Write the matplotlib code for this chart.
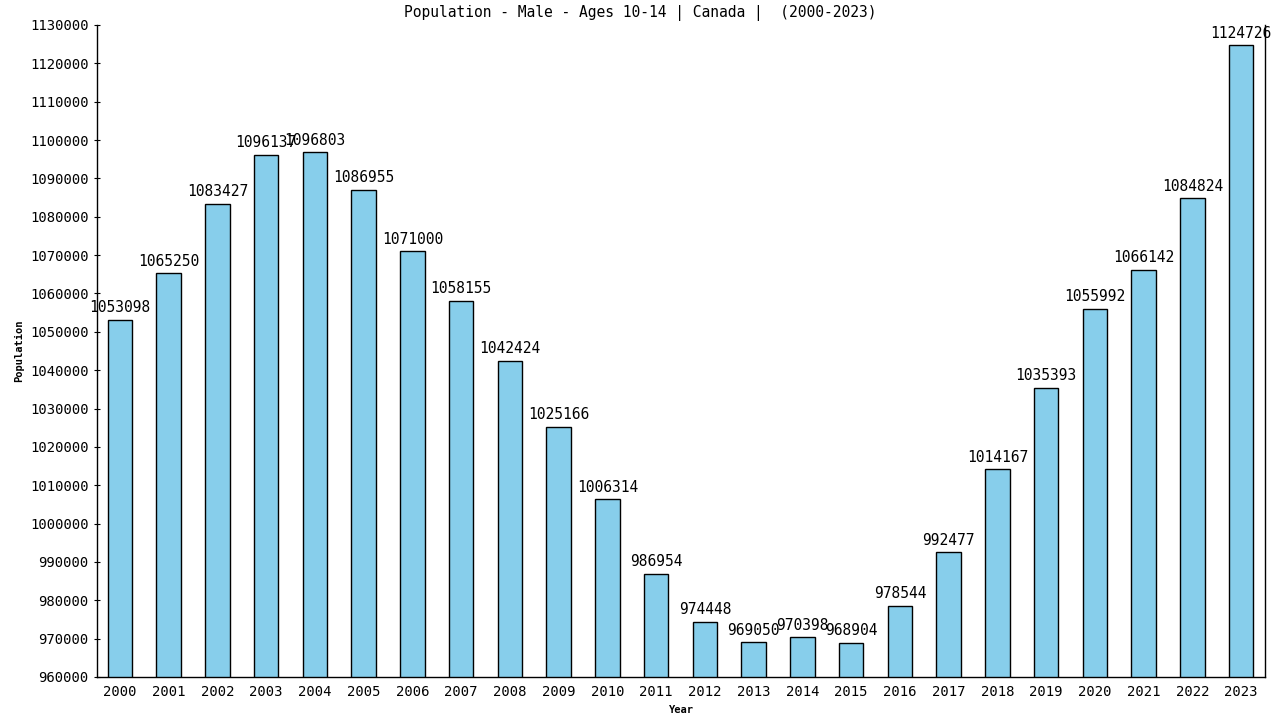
import matplotlib
matplotlib.use("Agg")
import matplotlib.pyplot as plt

years = list(range(2000, 2024))
population = [1053098, 1065250, 1083427, 1096137, 1096803, 1086955, 1071000, 1058155,
              1042424, 1025166, 1006314, 986954, 974448, 969050, 970398, 968904,
              978544, 992477, 1014167, 1035393, 1055992, 1066142, 1084824, 1124726]

plt.rcParams['font.family'] = ['DejaVu Sans Mono']

fig = plt.figure(figsize=(12.8, 7.2), dpi=100)
ax = fig.add_axes([97 / 1280, 1 - 677 / 720, (1265 - 97) / 1280, (677 - 25) / 720])

xs = list(range(len(years)))
ax.bar(xs, population, width=0.5, color='#87CEEB', edgecolor='black', linewidth=1)

for x, v in zip(xs, population):
    ax.text(x, v + 1200, str(v), ha='center', va='bottom', fontsize=10.5, color='black')

ax.set_xlim(-0.47, 23.49)
ax.set_ylim(960000, 1130000)
ax.set_yticks(range(960000, 1130001, 10000))
ax.set_yticklabels([str(t) for t in range(960000, 1130001, 10000)], fontsize=10)
ax.set_xticks(xs)
ax.set_xticklabels([str(y) for y in years], fontsize=10)
ax.tick_params(axis='x', length=0, pad=6)
ax.tick_params(axis='y', length=5, direction='inout')

ax.spines['top'].set_visible(False)
for s in ['left', 'bottom', 'right']:
    ax.spines[s].set_linewidth(1)

ax.set_xlabel("Year", fontsize=7.5, fontweight='bold', labelpad=4)
ax.set_ylabel("Population", fontsize=7.5, fontweight='bold', labelpad=4)
fig.text(0.5, 1 - 13 / 720, "Population - Male - Ages 10-14 | Canada |  (2000-2023)",
         ha='center', va='center', fontsize=10.5)

fig.savefig("out.png", dpi=100)
